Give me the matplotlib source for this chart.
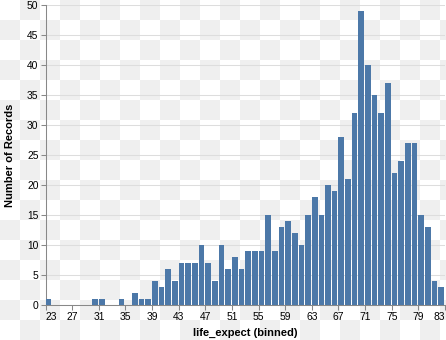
import numpy as np
import matplotlib
matplotlib.use("Agg")
import matplotlib.pyplot as plt

# Data: bin start (width 1) -> number of records
bin_starts = list(range(23, 83))
counts = [1, 0, 0, 0, 0, 0, 0, 1, 1, 0,
          0, 1, 0, 2, 1, 1, 4, 3, 6, 4,
          7, 7, 7, 10, 7, 4, 10, 6, 8, 6,
          9, 9, 9, 15, 9, 13, 14, 12, 10, 15,
          18, 15, 20, 19, 28, 21, 32, 49, 40, 35,
          32, 37, 22, 24, 27, 27, 15, 13, 4, 3]
x_ticks = list(range(23, 84, 4))
y_ticks = list(range(0, 51, 5))

W, H = 446, 340
DPI = 100
fig = plt.figure(figsize=(W / DPI, H / DPI), dpi=DPI, facecolor="white")
plt.rcParams["font.family"] = ["Liberation Sans", "DejaVu Sans"]

# transparent-preview checkerboard background
bg = fig.add_axes([0, 0, 1, 1], zorder=-10)
nx, ny = int(np.ceil(W / 20)), int(np.ceil(H / 20))
ii, jj = np.meshgrid(np.arange(nx), np.arange(ny))
board = np.where((ii + jj) % 2 == 1, 0.937, 1.0)
bg.imshow(board, cmap="gray", vmin=0, vmax=1, extent=[0, nx * 20, ny * 20, 0],
          interpolation="nearest", aspect="auto")
bg.set_xlim(0, W)
bg.set_ylim(H, 0)
bg.axis("off")

left, right, top, bottom = 45.6, 445.0, 5.0, 305.0
ax = fig.add_axes([left / W, 1 - bottom / H, (right - left) / W, (bottom - top) / H])
ax.set_facecolor("none")

px = 1 / ((right - left) / 60)  # one pixel in data units
ax.bar(bin_starts, counts, width=1 - px, align="edge", color="#4c78a8", zorder=3)

ax.set_xlim(23, 83)
ax.set_ylim(0, 50)
ax.set_yticks(y_ticks)
ax.set_xticks(x_ticks)
ax.yaxis.grid(True, color="#dddddd", linewidth=0.75, zorder=0)
ax.set_axisbelow(True)

for s in ["top", "right"]:
    ax.spines[s].set_visible(False)
for s in ["left", "bottom"]:
    ax.spines[s].set_color("#888888")
    ax.spines[s].set_linewidth(0.75)

ax.tick_params(axis="both", colors="#888888", length=3.6, width=0.75,
               labelsize=7.4, labelcolor="black", pad=1.5)
ax.set_yticklabels([str(v) for v in y_ticks])
labels = ax.set_xticklabels([str(v) for v in x_ticks])
labels[0].set_horizontalalignment("left")
labels[-1].set_horizontalalignment("right")

ax.set_xlabel("life_expect (binned)", fontsize=8, fontweight="bold", labelpad=4)
ax.set_ylabel("Number of Records", fontsize=8, fontweight="bold", labelpad=9)

fig.savefig("out.png", dpi=DPI, facecolor="white")
